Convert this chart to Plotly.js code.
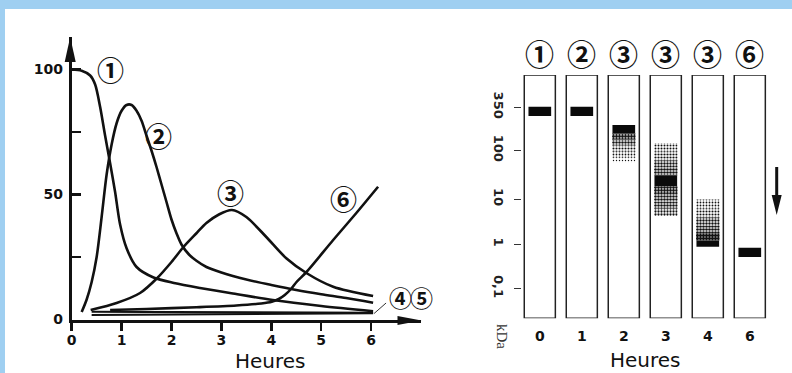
<!DOCTYPE html>
<html><head><meta charset="utf-8">
<script src="https://cdn.plot.ly/plotly-3.0.1.min.js"></script>
<style>html,body{margin:0;padding:0;background:#fff}#chart{width:792px;height:373px}</style>
</head><body><div id="chart"></div>
<script>
// ---------- Left panel: relative amount (%) vs time (hours) ----------
const c1x=[0,0.2,0.37,0.47,0.57,0.67,0.77,0.87,0.97,1.1,1.3,1.64,2.05,2.57,3.2,4.03,5.0,6.04];
const c1y=[100,99.5,97.6,94,85,73.5,62.5,51,38,28.5,21,16.8,14.6,12.6,10.5,7.8,5.4,3.3];
const c2x=[0.2,0.3,0.4,0.5,0.6,0.7,0.8,0.9,1.0,1.1,1.2,1.3,1.4,1.5,1.6,1.7,1.8,1.9,2.0,2.1,2.2,2.35,2.5,2.7,3.0,3.5,4.0,4.5,5.0,5.5,6.04];
const c2y=[3,8,15,25,41,58,70,78.5,83.5,85.8,85.8,83.5,79.5,73.5,67.5,61,54,47,40,34.5,30,26,23.5,21,18.8,16,13.8,11.8,10.1,8.6,6.7];
const c3x=[0.38,0.9,1.37,1.71,2.0,2.24,2.5,2.7,2.95,3.21,3.5,3.9,4.3,4.71,5.24,6.04];
const c3y=[3.8,6.6,10.6,16.5,23,29,34.5,38.6,42,43.8,41,33,24.5,18.5,13.1,9.4];
const c4x=[0.4,6.04], c4y=[3.1,2.7];
const c5x=[0.4,6.04], c5y=[1.8,2.5];
const c6x=[0.77,1.5,2.5,3.3,3.8,4.01,4.15,4.27,4.4,4.51,4.71,5.24,5.7,6.14];
const c6y=[3.8,4.2,4.9,5.6,6.4,7.1,8.2,9.8,12.3,15.1,19.1,31.8,42.5,53.1];
const curveNames=["①","②","③","④","⑤","⑥"];
const xTickVals=[0,1,2,3,4,5,6];
const xTickText=["0","1","2","3","4","5","6"];
const yTickVals=[0,25,50,75,100];
const yTickText=["0","","50","","100"];

// ---------- Right panel: gel ----------
const laneIndex=[0,1,2,3,4,5];
const laneHours=["0","1","2","3","4","6"];
const laneLabels=["①","②","③","③","③","⑥"];
const gelLength=10;
const ladderKDa=["350","100","10","1","0,1"];
const ladderMigration=[1.32,3.09,5.10,6.95,8.77];
const bandLane=[0,1,2,3,4,5];
const bandFrom=[1.30,1.30,2.06,4.12,6.80,7.10];
const bandTo=[1.69,1.69,2.40,4.57,7.06,7.48];
const smearLane=[2,2,2,2,2, 3,3,3,3,3,3,3,3, 4,4,4,4,4];
const smearFrom=[2.40,2.65,2.90,3.15,3.40, 2.81,3.15,3.50,3.80,4.57,4.85,5.20,5.50, 5.12,5.50,5.85,6.20,6.50];
const smearTo  =[2.65,2.90,3.15,3.40,3.59, 3.15,3.50,3.80,4.12,4.85,5.20,5.50,5.80, 5.50,5.85,6.20,6.50,6.80];
const smearDensity=[0.75,0.55,0.40,0.28,0.16, 0.35,0.42,0.50,0.62,0.70,0.60,0.55,0.45, 0.30,0.40,0.50,0.62,0.80];

const W=792,H=373;
const px=v=>v/W, py=v=>(H-v)/H;
const lineStyle={color:'#111',width:2.6,shape:'spline',smoothing:0.8};
const curves=[[c1x,c1y],[c2x,c2y],[c3x,c3y],[c4x,c4y],[c5x,c5y],[c6x,c6y]];
const traces=curves.map((c,i)=>({type:'scatter',mode:'lines',x:c[0],y:c[1],name:curveNames[i],
  line:Object.assign({},lineStyle,{width:(i===3||i===4)?2.2:2.6}),xaxis:'x',yaxis:'y',hoverinfo:'skip'}));

traces.push({type:'bar',xaxis:'x2',yaxis:'y2',x:laneIndex,base:laneIndex.map(()=>0),y:laneIndex.map(()=>gelLength),
  width:0.74,marker:{color:'white',line:{color:'#222',width:1.5}},hoverinfo:'skip'});
traces.push({type:'bar',xaxis:'x2',yaxis:'y2',x:smearLane,base:smearFrom,y:smearTo.map((t,i)=>t-smearFrom[i]),
  width:0.56,marker:{color:'white',line:{width:0},pattern:{shape:'.',size:3,solidity:smearDensity,fgcolor:'#111',bgcolor:'white'}},hoverinfo:'skip'});
traces.push({type:'bar',xaxis:'x2',yaxis:'y2',x:bandLane,base:bandFrom,y:bandTo.map((t,i)=>t-bandFrom[i]),
  width:0.54,marker:{color:'#0a0a0a',line:{width:0}},hoverinfo:'skip'});

const tickFont={family:'DejaVu Sans',size:14,color:'#111',weight:'bold'};
const circFont={family:'Noto Sans CJK JP',size:27,color:'#111',weight:'bold'};
const circFontSmall={family:'Noto Sans CJK JP',size:23,color:'#111',weight:'bold'};
const circFontGel={family:'Noto Sans CJK JP',size:29,color:'#111',weight:'bold'};
const annotations=[];
const mid={xanchor:'center',yanchor:'middle',showarrow:false};
const curveLabelPos=[[0.77,99.8],[1.73,73.8],[3.19,51],[6.58,9],[7.0,9],[5.44,48.6]];
curveNames.forEach((n,i)=>annotations.push(Object.assign({xref:'x',yref:'y',x:curveLabelPos[i][0],y:curveLabelPos[i][1],text:n,
  font:(i===3||i===4)?circFontSmall:circFont},mid)));
laneLabels.forEach((n,i)=>annotations.push(Object.assign({xref:'x2',yref:'paper',x:laneIndex[i],y:py(53),text:n,font:circFontGel},mid)));
annotations.push(Object.assign({xref:'paper',yref:'paper',x:px(270),y:py(361),text:'Heures',font:{family:'DejaVu Sans',size:20,color:'#111'}},mid));
annotations.push(Object.assign({xref:'paper',yref:'paper',x:px(645),y:py(360),text:'Heures',font:{family:'DejaVu Sans',size:20,color:'#111'}},mid));
annotations.push(Object.assign({xref:'paper',yref:'paper',x:px(502),y:py(336),text:'kDa',textangle:90,font:{family:'Liberation Serif',size:15,color:'#333'}},mid));

const shapes=[
  {type:'rect',xref:'paper',yref:'paper',x0:0,x1:1,y0:py(9),y1:1,fillcolor:'#9fcff1',line:{width:0},layer:'below'},
  {type:'rect',xref:'paper',yref:'paper',x0:0,x1:px(5),y0:0,y1:1,fillcolor:'#9fcff1',line:{width:0},layer:'below'},
  // axis arrowheads
  {type:'path',xref:'paper',yref:'paper',xsizemode:'pixel',ysizemode:'pixel',xanchor:px(421.5),yanchor:py(320.5),path:'M0,0 L-24,4.5 L-24,-4.5 Z',fillcolor:'#111',line:{width:0}},
  {type:'path',xref:'paper',yref:'paper',xsizemode:'pixel',ysizemode:'pixel',xanchor:px(70.2),yanchor:py(37),path:'M0,0 L-5.5,-25 L5.5,-25 Z',fillcolor:'#111',line:{width:0}},
  // leader line for 4/5
  {type:'line',xref:'x',yref:'y',x0:6.06,y0:2.4,x1:6.3,y1:6.6,line:{color:'#333',width:1}},
  // migration direction arrow
  {type:'line',xref:'paper',yref:'paper',x0:px(776.7),x1:px(776.7),y0:py(167),y1:py(200),line:{color:'#111',width:3}},
  {type:'path',xref:'paper',yref:'paper',xsizemode:'pixel',ysizemode:'pixel',xanchor:px(776.7),yanchor:py(215),path:'M0,0 L-5,20 L5,20 Z',fillcolor:'#111',line:{width:0}}
];

const layout={
  width:W,height:H,margin:{l:0,r:0,t:0,b:0},paper_bgcolor:'white',plot_bgcolor:'rgba(0,0,0,0)',
  showlegend:false,barmode:'overlay',
  xaxis:{domain:[px(71.7),px(421)],range:[0,7],tickvals:xTickVals,ticktext:xTickText,ticks:'outside',ticklen:8,tickwidth:2.5,tickcolor:'#111',
    showline:true,linewidth:3,linecolor:'#111',showgrid:false,zeroline:false,tickfont:tickFont,ticklabelstandoff:-2,anchor:'y'},
  yaxis:{domain:[py(319.5),py(37)],range:[0,113],tickvals:yTickVals,ticktext:yTickText,ticks:'inside',ticklen:9,tickwidth:2.5,tickcolor:'#111',
    showline:true,linewidth:3,linecolor:'#111',showgrid:false,zeroline:false,tickfont:tickFont,ticklabelstandoff:3,anchor:'x'},
  xaxis2:{domain:[px(522),1],range:[-0.424,6.005],tickvals:laneIndex,ticktext:laneHours,ticks:'',showline:false,showgrid:false,zeroline:false,
    tickfont:tickFont,ticklabelstandoff:8,anchor:'y2'},
  yaxis2:{domain:[py(318.3),py(75)],range:[gelLength,0],tickvals:ladderMigration,ticktext:ladderKDa,ticks:'outside',ticklen:7,tickwidth:1,tickcolor:'#333',
    tickangle:90,showline:false,showgrid:false,zeroline:false,tickfont:{family:'DejaVu Sans',size:13,color:'#222',weight:'bold'},ticklabelstandoff:4,anchor:'x2'},
  annotations:annotations,shapes:shapes
};
Plotly.newPlot('chart',traces,layout,{staticPlot:true,displayModeBar:false});
</script></body></html>
